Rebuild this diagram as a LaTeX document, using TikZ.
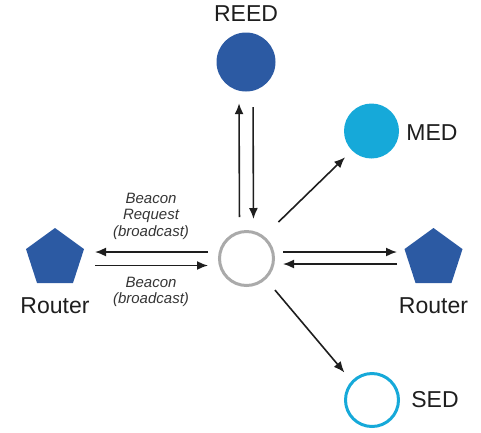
\documentclass[tikz,border=0pt]{standalone}
\usepackage{fontspec}
\setmainfont{Liberation Sans}
\usetikzlibrary{shapes.geometric,arrows.meta}
\definecolor{darkblue}{HTML}{2C5AA3}
\definecolor{cyanblue}{HTML}{16A9D9}
\definecolor{ringgray}{HTML}{AAAAAA}
\definecolor{ink}{HTML}{1E1E1E}
\tikzset{
  bigtext/.style={font=\fontsize{23}{26}\selectfont, text=ink, inner sep=0pt},
  smalltext/.style={font=\fontsize{15}{16.5}\selectfont\itshape, text=ink!90, align=center, inner sep=0pt},
  filledcirc/.style={circle, inner sep=0pt, fill=#1},
  ringcirc/.style={circle, inner sep=0pt, draw=#1, line width=3pt, fill=white},
  pent/.style={regular polygon, regular polygon sides=5, minimum size=61pt, inner sep=0pt, fill=darkblue},
  arr/.style={line width=1.6pt, draw=ink, -{Latex[length=11pt,width=9pt]}}
}
\begin{document}
\begin{tikzpicture}[x=1pt,y=-1pt]
\useasboundingbox (0,0) rectangle (481,432);
% nodes
\node[ringcirc=ringgray, minimum size=54pt] (ctr) at (246.5,258.5) {};
\node[filledcirc=darkblue, minimum size=59pt] (reed) at (246,62) {};
\node[filledcirc=cyanblue, minimum size=55pt] (med) at (371.5,131) {};
\node[ringcirc=cyanblue, minimum size=53pt] (sed) at (372,400) {};
\node[pent] (rl) at (55,258.5) {};
\node[pent] (rr) at (433.5,258.5) {};
% labels
\node[bigtext] (treed) at (246,14) {REED};
\node[bigtext] (tmed) at (432,133) {MED};
\node[bigtext] (tsed) at (435,400) {SED};
\node[bigtext] (trl) at (55,306) {Router};
\node[bigtext] (trr) at (433.5,306) {Router};
\node[smalltext] (lreq) at (151,216) {Beacon\\Request\\(broadcast)};
\node[smalltext] (lbea) at (151,292) {Beacon\\(broadcast)};
% vertical arrows
\draw[arr, shorten <=13pt, shorten >=11.5pt] ([xshift=-7pt]ctr.north) -- ([xshift=-7pt]reed.south);
\draw[arr, shorten <=15.5pt, shorten >=11pt] ([xshift=7pt]reed.south) -- ([xshift=7pt]ctr.north);
% left horizontal arrows
\draw[arr, shorten <=10pt, shorten >=40pt] ([yshift=6.5pt]ctr.west) -- ([yshift=6.5pt]rl.center);
\draw[arr, shorten <=40pt, shorten >=10pt] ([yshift=-7pt]rl.center) -- ([yshift=-7pt]ctr.west);
% right horizontal arrows
\draw[arr, shorten <=8pt, shorten >=36.5pt] ([yshift=6.5pt]ctr.east) -- ([yshift=6.5pt]rr.center);
\draw[arr, shorten <=36.5pt, shorten >=8pt] ([yshift=-5.5pt]rr.center) -- ([yshift=-5.5pt]ctr.east);
% diagonal arrows
\draw[arr, shorten <=20pt, shorten >=9.5pt] (ctr.52) -- (med.225);
\draw[arr, shorten <=14pt, shorten >=11pt] (ctr.-47) -- (sed.137);
\end{tikzpicture}
\end{document}
